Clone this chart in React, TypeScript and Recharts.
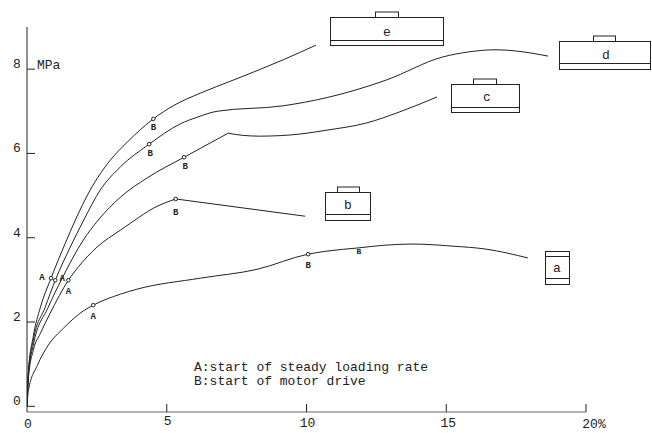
import React from "react";
import { LineChart, Line, XAxis, YAxis, ReferenceDot, Customized } from "recharts";

const FONT = "'Liberation Mono', monospace";
const INK = "#222";

// Strain (%) and stress (MPa)
const eX = [0, 0.05, 0.225, 0.48, 0.86, 1.37, 1.73, 2.26, 2.98, 3.59, 4.52, 5.23, 6.2, 7.38, 9.16, 10.34];
const eY = [0, 0.81, 1.66, 2.35, 3.04, 3.87, 4.42, 5.13, 5.84, 6.27, 6.82, 7.13, 7.43, 7.74, 8.22, 8.57];
const dX = [0, 0.05, 0.225, 0.65, 1.01, 1.55, 2.03, 2.62, 3.34, 4.37, 5.48, 6.09, 6.8, 9.16, 10.7, 12.85, 14.88, 15.81, 16.78, 17.5, 18.64];
const dY = [0, 0.81, 1.57, 2.35, 2.99, 3.78, 4.42, 5.13, 5.68, 6.22, 6.7, 6.86, 7.0, 7.13, 7.32, 7.74, 8.29, 8.41, 8.46, 8.43, 8.31];
// Curves c and b have a sharp corner, so each is two runs meeting there
const cRiseX = [0, 0.05, 0.225, 0.76, 1.26, 2.01, 2.55, 3.34, 4.3, 5.62, 7.2];
const cRiseY = [0, 0.74, 1.45, 2.35, 3.04, 3.94, 4.42, 4.96, 5.42, 5.91, 6.48];
const cLateX = [7.2, 7.7, 8.34, 9.77, 10.7, 12.13, 13.31, 14.67];
const cLateY = [6.48, 6.43, 6.41, 6.46, 6.55, 6.72, 6.98, 7.34];
const bRiseX = [0, 0.05, 0.225, 0.48, 0.83, 1.48, 1.84, 2.51, 3.34, 3.8, 4.52, 5.32];
const bRiseY = [0, 0.67, 1.33, 1.73, 2.21, 2.99, 3.31, 3.78, 4.18, 4.39, 4.7, 4.92];
const bFallX = [5.32, 9.95];
const bFallY = [4.92, 4.51];
const aX = [0, 0.05, 0.37, 0.76, 1.3, 2.01, 2.37, 3.34, 3.94, 6.2, 8.23, 10.06, 10.7, 11.88, 12.74, 13.81, 15.24, 16.42, 17.92];
const aY = [0, 0.38, 0.97, 1.45, 1.85, 2.26, 2.4, 2.66, 2.78, 3.04, 3.25, 3.61, 3.68, 3.76, 3.82, 3.85, 3.8, 3.73, 3.52];

const xTicks = [0, 5, 10, 15, 20];
const yTicks = [0, 2, 4, 6, 8];
const noteLines = ["A:start of steady loading rate", "B:start of motor drive"];
const yUnit = "MPa";
const xUnit = "%";

// Marked points: series, letter, strain, stress
const markNames = ["eB", "dB", "cB", "bB", "aB", "eA", "dA", "cA", "bA", "aA"];
const markLetters = ["B", "B", "B", "B", "B", "A", "", "A", "A", "A"];
const markX = [4.52, 4.37, 5.62, 5.32, 10.06, 0.86, 1.01, 1.26, 1.48, 2.37];
const markY = [6.82, 6.22, 5.91, 4.92, 3.61, 3.04, 2.99, 3.04, 2.99, 2.4];

const zip = (xs: number[], ys: number[]) => xs.map((x, i) => ({ x, y: ys[i] }));
const series = [
  zip(eX, eY),
  zip(dX, dY),
  zip(cRiseX, cRiseY),
  zip(cLateX, cLateY),
  zip(bRiseX, bRiseY),
  zip(bFallX, bFallY),
  zip(aX, aY),
];

const markOffset: Record<string, [number, number]> = {
  eB: [0, 8], dB: [1, 9], cB: [1, 9], bB: [0, 13], aB: [0, 11],
  eA: [-9, -1], dA: [0, 0], cA: [0, 0], bA: [0, 11], aA: [0, 11],
};
const noCircle = ["cA"];

const MarkShape = (props: any) => {
  const { cx, cy, name, letter } = props;
  const [dx, dy] = markOffset[name];
  return (
    <g>
      {noCircle.includes(name) ? null : (
        <circle cx={cx} cy={cy} r={1.8} fill="#fff" stroke={INK} strokeWidth={1} />
      )}
      {letter ? (
        <text x={cx + dx} y={cy + dy + 3} textAnchor="middle" fontFamily={FONT} fontSize={9} fontWeight={700} fill={INK}>
          {letter}
        </text>
      ) : null}
    </g>
  );
};

const XTick = (props: any) => {
  const { x, y, payload } = props;
  const v = payload.value;
  const labelY: Record<number, number> = { 0: 12, 5: 9, 10: 11, 15: 11, 20: 12 };
  const labelDx: Record<number, number> = { 0: 1, 5: 1, 10: 1, 15: 2, 20: 8 };
  return (
    <g>
      {v !== 0 ? <line x1={x} x2={x} y1={y} y2={y - 8} stroke={INK} strokeWidth={1} /> : null}
      <text x={x + labelDx[v]} y={y + labelY[v] + 4} textAnchor="middle" fontFamily={FONT} fontSize={13} fill={INK}>
        {v === 20 ? `${v}${xUnit}` : v}
      </text>
    </g>
  );
};

const YTick = (props: any) => {
  const { x, y, payload } = props;
  return (
    <g>
      <line x1={x} x2={x + 8} y1={y} y2={y} stroke={INK} strokeWidth={1} />
      <text x={x - 10} y={y - 1} textAnchor="middle" fontFamily={FONT} fontSize={13} fill={INK}>
        {payload.value}
      </text>
    </g>
  );
};

const Box = ({ x, y, w, h, capX, capW, lines, letter, lx, ly }: any) => (
  <g fill="none" stroke={INK} strokeWidth={1}>
    <rect x={x} y={y} width={w} height={h} />
    {capW > 0 ? <rect x={capX} y={y - 5.5} width={capW} height={5.5} /> : null}
    {lines.map((l: number) => (
      <line key={l} x1={x} x2={x + w} y1={l} y2={l} />
    ))}
    <text x={lx} y={ly} textAnchor="middle" fontFamily={FONT} fontSize={13} fill={INK} stroke="none">
      {letter}
    </text>
  </g>
);

const Overlay = () => (
  <g>
    <text x={37} y={69} fontFamily={FONT} fontSize={13} fill={INK}>{yUnit}</text>
    {noteLines.map((t, i) => (
      <text key={t} x={194} y={371 + i * 14} fontFamily={FONT} fontSize={13} fill={INK}>{t}</text>
    ))}
    <text x={359} y={254} textAnchor="middle" fontFamily={FONT} fontSize={8} fontWeight={700} fill={INK}>B</text>
    <Box x={330.5} y={17.5} w={113} h={28} capX={375.5} capW={23} lines={[40.5]} letter="e" lx={387} ly={36} />
    <Box x={559.5} y={41.5} w={91} h={28} capX={593.5} capW={22} lines={[63.5]} letter="d" lx={606} ly={59} />
    <Box x={451.5} y={84.5} w={68} h={28} capX={473.5} capW={23} lines={[107.5]} letter="c" lx={487} ly={101} />
    <Box x={325.5} y={192.5} w={45} h={28} capX={337.5} capW={22} lines={[214.5]} letter="b" lx={348} ly={209} />
    <Box x={545.5} y={251.5} w={24} h={33} capX={545.5} capW={0} lines={[256.5, 278.5]} letter="a" lx={557} ly={272} />
  </g>
);

export default function App() {
  return (
    <div style={{ position: "absolute", left: 0, top: 0, width: 652, height: 433, background: "#fff", opacity: 0.999 }}>
      <LineChart width={652} height={433} margin={{ top: 27, right: 66, bottom: 0, left: 0 }}>
        <XAxis
          type="number"
          dataKey="x"
          domain={[0, 20]}
          ticks={xTicks}
          height={21}
          tick={<XTick />}
          tickLine={false}
          tickSize={0}
          tickMargin={0}
          axisLine={{ stroke: "#999", strokeWidth: 1.6 }}
          interval={0}
          allowDataOverflow
        />
        <YAxis
          type="number"
          dataKey="y"
          domain={[-0.135, 9]}
          ticks={yTicks}
          width={27}
          tick={<YTick />}
          tickLine={false}
          tickSize={0}
          tickMargin={0}
          axisLine={{ stroke: INK, strokeWidth: 1 }}
          interval={0}
          allowDataOverflow
        />
        {series.map((d, i) => (
          <Line
            key={i}
            data={d}
            dataKey="y"
            type="monotone"
            stroke={INK}
            strokeWidth={1}
            dot={false}
            activeDot={false}
            isAnimationActive={false}
            legendType="none"
          />
        ))}
        {markNames.map((name, i) => (
          <ReferenceDot
            key={name}
            x={markX[i]}
            y={markY[i]}
            r={2}
            ifOverflow="visible"
            shape={(p: any) => <MarkShape {...p} name={name} letter={markLetters[i]} />}
          />
        ))}
        <Customized component={Overlay} />
      </LineChart>
    </div>
  );
}
